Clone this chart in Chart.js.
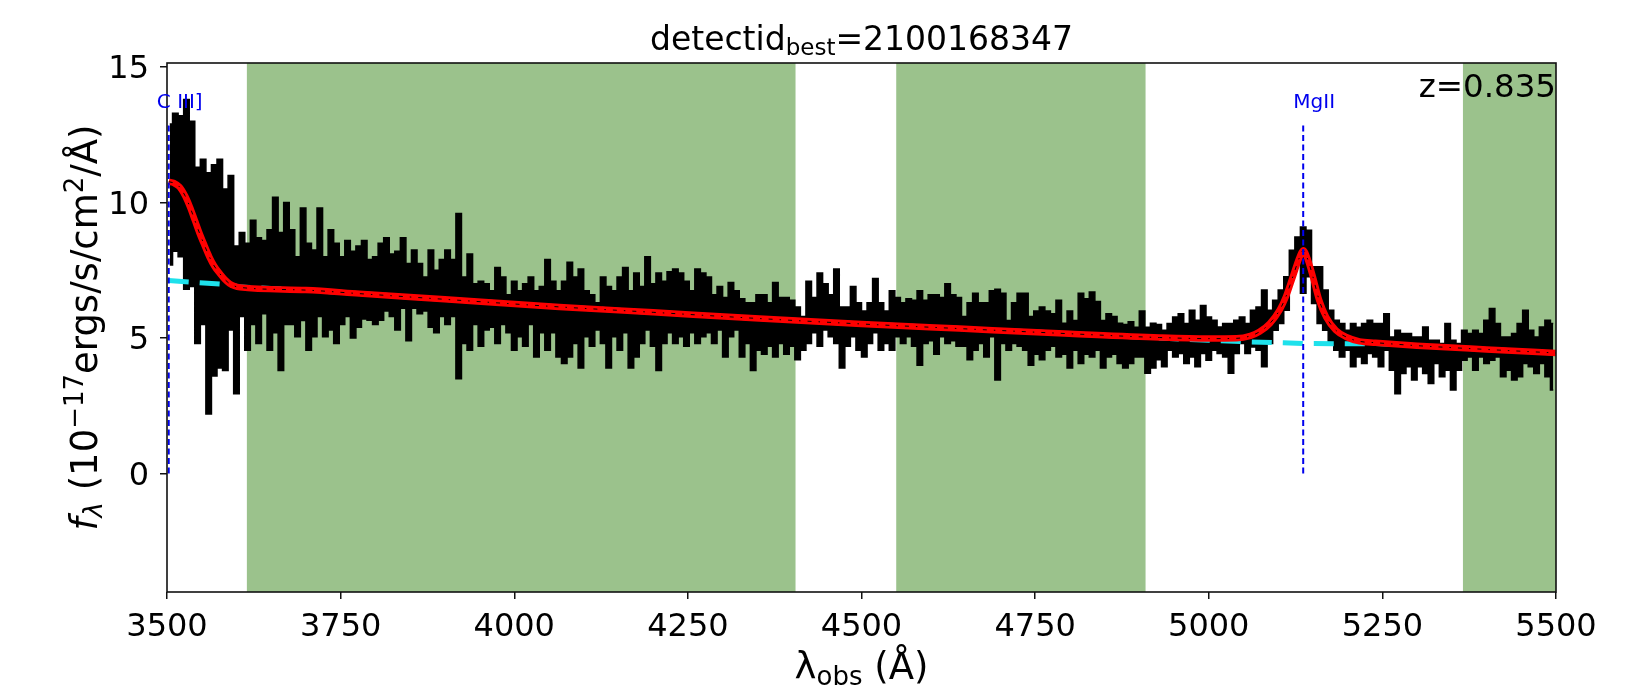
<!DOCTYPE html>
<html>
<head>
<meta charset="utf-8">
<script src="https://cdn.jsdelivr.net/npm/chart.js@4.4.1/dist/chart.umd.min.js"></script>
<style>
  html, body { margin: 0; padding: 0; background: #fff; }
  #wrap { width: 1634px; height: 693px; }
</style>
</head>
<body>
<div id="wrap"><canvas id="spec" width="1634" height="693"></canvas></div>
<script>
// spectrum, sampled every 8 A from 3504 A: upper / lower edge of the noisy band
const waveStart = 3504;
const waveStep = 8;
const fluxHi = [
  12.9, 13.3, 13.2, 13.8, 13.0, 11.3, 11.6, 11.1, 11.4, 11.6, 10.5, 11.0, 8.4, 8.9, 8.5, 9.35, 8.7, 8.6, 9.0, 10.2,
  8.9, 10.0, 9.0, 8.0, 9.8, 8.5, 8.25, 9.8, 8.0, 9.0, 8.5, 8.0, 8.6, 8.2, 8.4,
  8.6, 7.9, 8.0, 8.5, 8.7, 8.1, 8.2, 8.7, 7.75, 8.25, 7.75, 7.25, 8.25, 7.5, 7.9, 8.25, 7.9, 9.6, 7.25, 8.1,
  7.0, 7.1, 7.0, 6.75, 7.6, 7.25, 6.6, 7.1, 6.75, 7.0, 7.25, 6.75, 6.9, 7.9, 7.1, 6.75,
  7.1, 7.8, 7.25, 7.55, 6.75, 6.6, 6.3, 7.25, 6.9, 6.75, 7.25, 7.6, 6.75, 7.4, 6.9, 8.0, 7.0, 7.4, 7.1, 7.45,
  7.55, 7.4, 7.1, 6.75, 7.55, 7.4, 7.25, 6.6, 6.9, 6.5, 7.05, 6.75, 6.45, 6.3, 6.3, 6.6,
  6.6, 6.3, 7.05, 6.5, 6.5, 6.4, 6.15, 5.8, 7.1, 6.5, 7.4, 7.0, 6.6, 7.55, 6.15, 6.15, 6.9, 6.3, 6.0, 6.3,
  7.2, 6.3, 6.0, 6.75, 6.5, 6.3, 6.45, 6.4, 6.75, 6.4, 6.6, 6.6, 6.5, 7.0, 6.6, 6.5,
  5.8, 6.3, 6.65, 6.3, 6.3, 6.75, 6.8, 6.65, 5.65, 6.3, 6.65, 6.65, 5.8, 6.0, 6.15, 6.0, 5.9, 6.4, 5.55, 6.0,
  5.65, 6.65, 6.45, 6.7, 6.35, 5.65, 5.9, 5.8, 5.55, 5.5, 5.6, 5.4, 6.0, 5.4, 5.55, 5.5,
  5.29, 5.54, 5.78, 5.9, 5.54, 6.03, 5.66, 6.2, 5.78, 5.66, 5.41, 5.54, 5.54, 5.66, 5.78, 5.54, 6.03, 6.15, 6.77, 6.03,
  6.4, 6.77, 7.26, 8.24, 8.73, 9.1, 8.98, 7.63, 7.63, 6.77, 6.03, 5.66, 5.54, 5.29, 5.54, 5.4,
  5.54, 5.66, 5.54, 5.54, 5.9, 5.04, 5.29, 5.17, 5.17, 5.04, 5.04, 5.41, 4.92, 4.92, 4.8, 5.54, 4.92, 4.8, 5.29, 5.17,
  5.29, 5.17, 5.66, 6.09, 5.54, 5.04, 5.04, 5.17, 5.54, 6.03, 5.29, 5.04, 5.41, 5.66, 5.54
];
const fluxLo = [
  7.7, 8.2, 8.0, 6.8, 6.9, 4.8, 5.5, 2.2, 3.6, 3.9, 3.8, 5.3, 2.95, 5.8, 4.55, 5.5, 4.8, 5.9, 4.55, 5.2,
  3.8, 5.5, 5.5, 5.05, 5.65, 4.55, 5.05, 5.8, 5.05, 5.3, 4.8, 5.5, 5.8, 5.0, 5.4,
  5.7, 5.66, 5.5, 5.66, 6.0, 5.8, 5.3, 6.1, 4.9, 6.1, 5.9, 6.0, 5.4, 5.2, 5.8, 5.5, 5.8, 3.5, 4.8, 4.55,
  5.5, 4.7, 5.3, 5.4, 4.8, 5.5, 5.2, 4.55, 5.05, 4.7, 5.5, 4.3, 5.2, 4.55, 5.2, 4.3,
  4.06, 4.3, 4.8, 3.9, 5.05, 4.7, 5.3, 4.8, 3.9, 5.05, 4.55, 5.2, 3.9, 4.3, 4.8, 5.3, 4.7, 3.8, 4.8, 5.2,
  4.8, 5.05, 4.7, 5.2, 4.8, 5.05, 5.2, 4.8, 5.3, 4.3, 5.05, 5.3, 4.3, 4.8, 3.8, 4.55,
  4.4, 4.7, 4.3, 4.8, 4.4, 4.7, 4.2, 4.55, 4.8, 5.2, 4.7, 5.3, 5.05, 4.8, 3.9, 4.7, 5.05, 4.55, 4.3, 4.8,
  5.2, 4.55, 4.8, 4.55, 5.05, 4.8, 5.05, 4.7, 4.0, 4.8, 4.9, 4.4, 5.05, 4.8, 4.9, 4.7,
  4.7, 4.2, 4.55, 4.8, 4.3, 5.05, 3.45, 4.8, 4.55, 4.8, 4.7, 4.55, 4.0, 4.4, 4.2, 4.55, 4.7, 4.3, 4.4, 3.9,
  4.55, 4.06, 4.4, 4.3, 4.55, 3.9, 4.3, 4.4, 4.06, 3.9, 4.06, 4.3, 4.3, 3.7, 3.9, 4.2,
  3.94, 4.55, 4.3, 4.43, 4.06, 4.3, 3.94, 4.43, 4.18, 4.55, 4.43, 4.3, 3.7, 4.43, 4.8, 4.43, 4.67, 4.55, 3.94, 4.8,
  5.29, 5.54, 6.03, 7.26, 7.75, 6.65, 7.26, 6.28, 5.54, 5.29, 4.8, 4.55, 4.3, 4.55, 3.94, 4.3,
  4.06, 4.43, 4.3, 3.94, 4.55, 3.81, 2.95, 3.69, 3.94, 3.45, 3.94, 3.69, 3.32, 4.06, 3.57, 3.81, 3.08, 3.81, 4.18, 4.3,
  3.81, 4.3, 4.06, 4.18, 4.3, 3.57, 3.81, 3.45, 3.57, 4.06, 3.94, 3.69, 4.06, 3.57, 3.08
];

// fitted model (red) and its continuum (cyan)
const modelWave = [3502.5, 3510, 3518, 3526, 3533, 3540, 3547, 3554, 3561, 3568, 3576, 3583, 3590, 3597, 3605,
  3700, 3777, 3900, 4065, 4200, 4353, 4500, 4641, 4800, 4929, 5000, 5040, 5060, 5073, 5088, 5102, 5111, 5121,
  5131, 5136, 5143, 5150, 5159, 5169, 5183, 5198, 5217, 5240, 5300, 5400, 5500];
const modelFlux = [10.77, 10.72, 10.58, 10.25, 9.84, 9.35, 8.86, 8.42, 8.0, 7.66, 7.38, 7.17, 7.01, 6.92, 6.87,
  6.77, 6.64, 6.43, 6.15, 5.95, 5.72, 5.52, 5.35, 5.16, 5.02, 4.98, 4.99, 5.08, 5.23, 5.54, 6.03, 6.52, 7.26,
  8.0, 8.24, 7.87, 7.26, 6.4, 5.78, 5.29, 5.04, 4.88, 4.83, 4.72, 4.58, 4.45];
const contWave = [3502.5, 3590, 3605, 3700, 3777, 3900, 4065, 4200, 4353, 4500, 4641, 4800, 4929, 5000, 5060,
  5136, 5217, 5240, 5300, 5400, 5500];
const contFlux = [7.12, 6.97, 6.88, 6.77, 6.64, 6.43, 6.15, 5.95, 5.72, 5.52, 5.35, 5.16, 5.0, 4.92, 4.86,
  4.8, 4.79, 4.8, 4.72, 4.58, 4.45];

// emission lines marked
const lineNames = ['C III]', 'MgII'];
const lineWave = [3502.5, 5136];
const lineTop = 12.86;

// shaded (masked) wavelength ranges
const maskStart = [3615, 4550, 5366];
const maskEnd = [4405, 4909, 5500];

const xTicks = [3500, 3750, 4000, 4250, 4500, 4750, 5000, 5250, 5500];
const yTicks = [0, 5, 10, 15];
const detectid = '2100168347';
const redshift = '0.835';

const FONT = 'DejaVu Sans';
const wave = fluxHi.map((v, i) => waveStart + waveStep * i);
const pts = (xs, ys) => xs.map((x, i) => ({ x: x, y: ys[i] }));

// draws a row of text pieces (sub/superscripts) from one anchor
function drawParts(ctx, parts, x, y, align) {
  let total = 0;
  parts.forEach((p) => {
    ctx.font = (p.italic ? 'italic ' : '') + p.size + 'px "' + FONT + '"';
    p.w = ctx.measureText(p.t).width;
    total += p.w;
  });
  let cx = align === 'center' ? x - total / 2 : align === 'right' ? x - total : x;
  ctx.textAlign = 'left';
  ctx.textBaseline = 'alphabetic';
  parts.forEach((p) => {
    ctx.font = (p.italic ? 'italic ' : '') + p.size + 'px "' + FONT + '"';
    ctx.fillText(p.t, cx, y + (p.dy || 0));
    cx += p.w;
  });
}

const decor = {
  id: 'decor',
  beforeDatasetsDraw(chart) {
    const { ctx, chartArea, scales } = chart;
    ctx.save();
    ctx.fillStyle = 'rgb(155,194,140)';
    maskStart.forEach((s, i) => {
      const x0 = scales.x.getPixelForValue(s);
      const x1 = scales.x.getPixelForValue(maskEnd[i]);
      ctx.fillRect(x0, chartArea.top, x1 - x0, chartArea.bottom - chartArea.top);
    });
    ctx.restore();
  },
  afterDatasetsDraw(chart) {
    const { ctx, chartArea, scales } = chart;
    ctx.save();
    ctx.strokeStyle = '#111';
    ctx.lineWidth = 1.6;
    ctx.strokeRect(chartArea.left, chartArea.top, chartArea.right - chartArea.left, chartArea.bottom - chartArea.top);

    // line names above the markers
    ctx.fillStyle = '#0000ee';
    lineNames.forEach((name, i) => {
      drawParts(ctx, [{ t: name, size: 20 }], scales.x.getPixelForValue(lineWave[i]) + 11, scales.y.getPixelForValue(13.48), 'center');
    });

    ctx.fillStyle = '#000';
    drawParts(ctx, [{ t: 'z=' + redshift, size: 32.5 }], chartArea.right, 96.5, 'right');
    ctx.restore();
  },
  afterDraw(chart) {
    const { ctx, chartArea } = chart;
    const mid = (chartArea.left + chartArea.right) / 2;
    ctx.save();
    ctx.fillStyle = '#000';
    drawParts(ctx, [
      { t: 'detectid', size: 33 },
      { t: 'best', size: 23, dy: 5 },
      { t: '=' + detectid, size: 33 }
    ], mid, 49.5, 'center');

    drawParts(ctx, [
      { t: '\u03bb', size: 37 },
      { t: 'obs', size: 26, dy: 6 },
      { t: ' (\u00c5)', size: 37 }
    ], mid, 679, 'center');

    ctx.translate(97, (chartArea.top + chartArea.bottom) / 2);
    ctx.rotate(-Math.PI / 2);
    drawParts(ctx, [
      { t: 'f', size: 37, italic: true },
      { t: '\u03bb', size: 26, italic: true, dy: 5 },
      { t: ' (10', size: 37 },
      { t: '\u221217', size: 26, dy: -14 },
      { t: 'ergs/s/cm', size: 37 },
      { t: '2', size: 26, dy: -14 },
      { t: '/\u00c5)', size: 37 }
    ], 0, 0, 'center');
    ctx.restore();
  }
};

const tickFont = { family: FONT, size: 32 };

new Chart(document.getElementById('spec'), {
  type: 'line',
  data: {
    datasets: [
      {
        label: 'spectrum',
        data: pts(wave, fluxHi),
        stepped: 'middle',
        borderColor: '#000',
        backgroundColor: '#000',
        borderWidth: 1.5,
        pointRadius: 0,
        fill: '+1',
        order: 6
      },
      {
        label: 'spectrum low',
        data: pts(wave, fluxLo),
        stepped: 'middle',
        borderColor: '#000',
        borderWidth: 1.5,
        pointRadius: 0,
        fill: false,
        order: 6
      },
      {
        label: 'continuum',
        data: pts(contWave, contFlux),
        borderColor: 'rgb(30,225,235)',
        borderWidth: 5,
        borderDash: [20, 11],
        pointRadius: 0,
        fill: false,
        order: 4
      },
      {
        label: 'model',
        data: pts(modelWave, modelFlux),
        borderColor: '#ff0000',
        borderWidth: 6.5,
        cubicInterpolationMode: 'monotone',
        pointRadius: 0,
        fill: false,
        order: 3
      },
      {
        label: 'model dashdot',
        data: pts(modelWave, modelFlux),
        borderColor: '#000',
        borderWidth: 1,
        borderDash: [4, 7, 1.5, 7],
        cubicInterpolationMode: 'monotone',
        pointRadius: 0,
        fill: false,
        order: 2
      },
      ...lineWave.map((w, i) => ({
        label: lineNames[i],
        data: [{ x: w, y: 0 }, { x: w, y: lineTop }],
        borderColor: '#0000ee',
        borderWidth: 2,
        borderDash: [6, 3.5],
        pointRadius: 0,
        fill: false,
        order: 1
      }))
    ]
  },
  options: {
    responsive: false,
    animation: false,
    devicePixelRatio: 1,
    layout: { padding: { left: 0, right: 78, top: 63, bottom: 0 } },
    plugins: { legend: { display: false }, tooltip: { enabled: false } },
    scales: {
      x: {
        type: 'linear',
        min: 3500,
        max: 5500,
        afterBuildTicks: (s) => { s.ticks = xTicks.map((v) => ({ value: v })); },
        afterFit: (s) => { s.height = 101; s.paddingLeft = 0; s.paddingRight = 0; },
        ticks: { font: tickFont, color: '#000', padding: 9, maxRotation: 0, autoSkip: false, callback: (v) => String(v) },
        grid: { drawOnChartArea: false, drawTicks: true, tickLength: 7, color: '#111', lineWidth: 1.5 },
        border: { display: false }
      },
      y: {
        type: 'linear',
        min: -4.37,
        max: 15.15,
        afterBuildTicks: (s) => { s.ticks = yTicks.map((v) => ({ value: v })); },
        afterFit: (s) => { s.width = 167; s.paddingTop = 0; s.paddingBottom = 0; },
        ticks: { font: tickFont, color: '#000', padding: 11, labelOffset: 3, callback: (v) => String(v) },
        grid: { drawOnChartArea: false, drawTicks: true, tickLength: 7, color: '#111', lineWidth: 1.5 },
        border: { display: false }
      }
    }
  },
  plugins: [decor]
});
</script>
</body>
</html>
